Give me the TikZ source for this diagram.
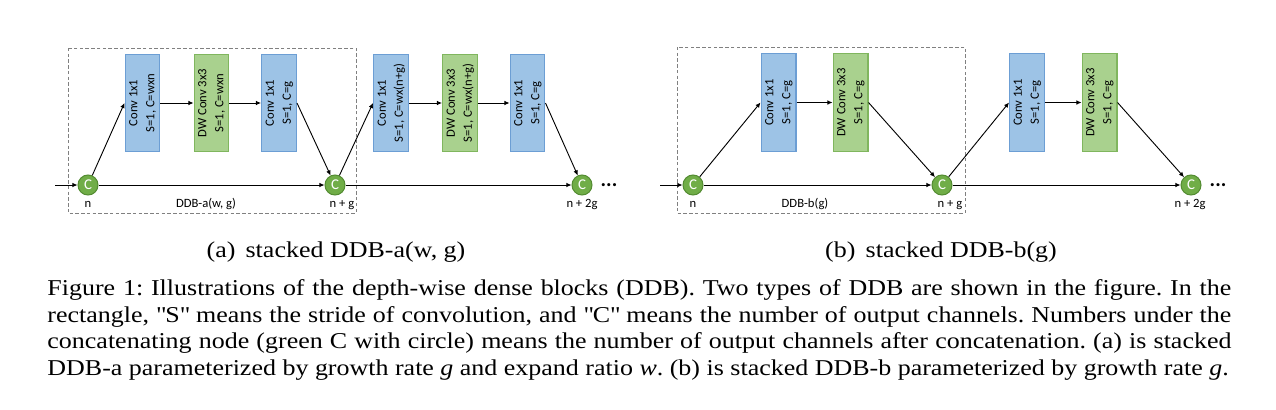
\documentclass[tikz,border=0pt]{standalone}
\usepackage{fontspec}
\setmainfont{Liberation Serif}[FakeStretch=1.147]
\newfontfamily\diafont{Carlito}
\usetikzlibrary{arrows.meta}

\definecolor{convblue}{RGB}{157,195,230}
\definecolor{convedge}{RGB}{108,158,212}
\definecolor{dwgreen}{RGB}{169,209,142}
\definecolor{dwedge}{RGB}{128,182,94}
\definecolor{catgreen}{RGB}{112,173,71}
\definecolor{catedge}{RGB}{84,140,50}

\newcommand{\vtext}[2]{\rotatebox{90}{\begin{tabular}{@{}c@{}}#1\\#2\end{tabular}}}

\begin{document}
\frenchspacing
\begin{tikzpicture}[x=0.435pt,y=-0.435pt,
  every node/.style={inner sep=0pt,font=\diafont\fontsize{5.5}{7.4}\selectfont},
  conv/.style={rectangle,draw=convedge,fill=convblue,line width=0.45pt,minimum width=15.2pt,minimum height=42.6pt},
  dw/.style={conv,draw=dwedge,fill=dwgreen},
  cat/.style={circle,draw=catedge,fill=catgreen,line width=0.45pt,text=white,minimum size=8.7pt,font=\diafont\fontsize{6.5}{7}\selectfont},
  flow/.style={-{Latex[length=2.2pt,width=2pt]},line width=0.4pt},
  block/.style={draw=gray,dash pattern=on 1.5pt off 1pt,line width=0.4pt},
  more/.style={anchor=base,font=\diafont\bfseries\fontsize{9}{9}\selectfont},
  subcap/.style={anchor=base,font=\rmfamily\fontsize{9.85}{11.55}\selectfont},
  figcaption/.style={font=\rmfamily\fontsize{9.85}{11.55}\selectfont}]
  \useasboundingbox (0,0) rectangle (1276,409);

  % stacked DDB-a
  \draw[block] (68,48) rectangle (356,213);
  \coordinate (inA) at (55,185);
  \node[cat] (ca1) at (88,185) {C};
  \node[cat] (ca2) at (335,185) {C};
  \node[cat] (ca3) at (582,185) {C};
  \node[conv] (a1) at (142.5,103) {\vtext{Conv 1x1}{S=1, C=wxn}};
  \node[dw]   (a2) at (211.5,103) {\vtext{DW Conv 3x3}{S=1, C=wxn}};
  \node[conv] (a3) at (279,103) {\vtext{Conv 1x1}{S=1, C=g}};
  \node[conv] (a4) at (391,103) {\vtext{Conv 1x1}{S=1, C=wx(n+g)}};
  \node[dw]   (a5) at (460,103) {\vtext{DW Conv 3x3}{S=1, C=wx(n+g)}};
  \node[conv] (a6) at (527.5,103) {\vtext{Conv 1x1}{S=1, C=g}};
  \node[more] (moreA) at (609,186) {...};
  \node (nA1) at (88,204) {n};
  \node (nameA) at (206,204) {DDB-a(w, g)};
  \node (nA2) at (342,205) {n + g};
  \node (nA3) at (582,204) {n + 2g};

  \path[flow]
        (inA) edge (ca1)
        (ca1) edge (ca2)
        (ca2) edge (ca3)
        (ca1) edge (a1.west)
        (a1) edge (a2)
        (a2) edge (a3)
        (a3.east) edge (ca2)
        (ca2) edge (a4.west)
        (a4) edge (a5)
        (a5) edge (a6)
        (a6.east) edge (ca3);

  % stacked DDB-b
  \draw[block] (677,47) rectangle (965,213);
  \coordinate (inB) at (660,185);
  \node[cat] (cb1) at (693,185) {C};
  \node[cat] (cb2) at (942,185) {C};
  \node[cat] (cb3) at (1191,185) {C};
  \node[conv] (b1) at (778.5,102.5) {\vtext{Conv 1x1}{S=1, C=g}};
  \node[dw]   (b2) at (850.5,102.5) {\vtext{DW Conv 3x3}{S=1, C=g}};
  \node[conv] (b3) at (1027,102.5) {\vtext{Conv 1x1}{S=1, C=g}};
  \node[dw]   (b4) at (1099.5,102.5) {\vtext{DW Conv 3x3}{S=1, C=g}};
  \node[more] (moreB) at (1218,186) {...};
  \node (nB1) at (693,204) {n};
  \node (nameB) at (805,204) {DDB-b(g)};
  \node (nB2) at (950,205) {n + g};
  \node (nB3) at (1190,204) {n + 2g};

  \path[flow]
        (inB) edge (cb1)
        (cb1) edge (cb2)
        (cb2) edge (cb3)
        (cb1) edge (b1.west)
        (b1) edge (b2)
        (b2.east) edge (cb2)
        (cb2) edge (b3.west)
        (b3) edge (b4)
        (b4.east) edge (cb3);

  % captions
  \node[subcap] (capA) at (336,257) {(a)\hspace{0.45em}stacked DDB-a(w, g)};
  \node[subcap] (capB) at (941,257) {(b)\hspace{0.45em}stacked DDB-b(g)};
  \node[figcaption,anchor=north west,text width=515pt,align=justify] (figcap) at (47,276.4)
    {\strut Figure 1: Illustrations of the depth-wise dense blocks (DDB). Two types of DDB are shown in the figure. In the\linebreak
     rectangle, \textquotedbl S\textquotedbl{} means the stride of convolution, and \textquotedbl C\textquotedbl{} means the number of output channels. Numbers under the\linebreak
     concatenating node (green C with circle) means the number of output channels after concatenation. (a) is stacked\linebreak
     DDB-a parameterized by growth rate \textit{g} and expand ratio \textit{w}. (b) is stacked DDB-b parameterized by growth rate \textit{g}.};
\end{tikzpicture}
\end{document}
